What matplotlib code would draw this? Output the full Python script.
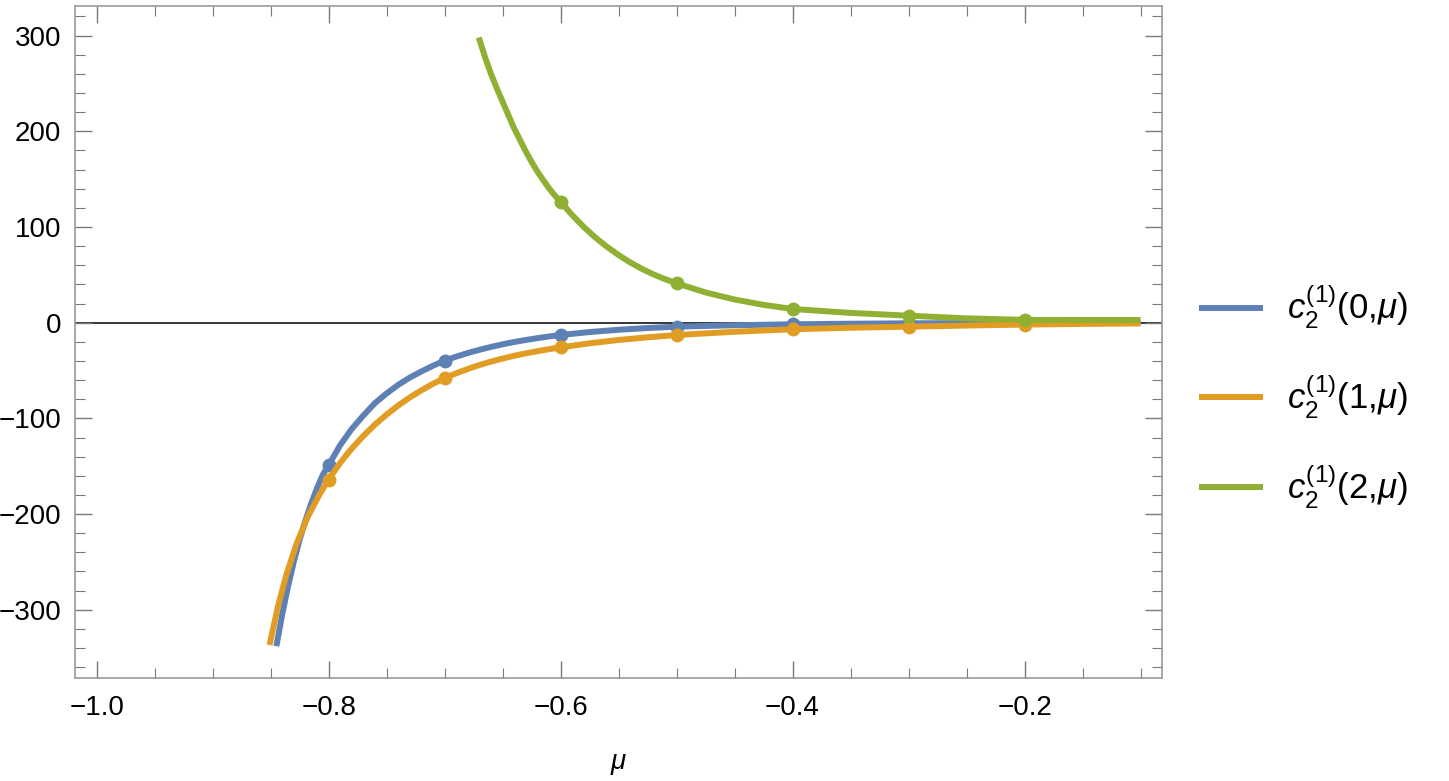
import matplotlib
matplotlib.use("Agg")
import matplotlib.pyplot as plt
from matplotlib.lines import Line2D
from matplotlib.ticker import MultipleLocator

plt.rcParams["font.family"] = ["Liberation Sans", "DejaVu Sans"]
plt.rcParams["mathtext.fontset"] = "custom"
plt.rcParams["mathtext.rm"] = "Liberation Sans"
plt.rcParams["mathtext.it"] = "Liberation Sans:italic"

# curve samples
mu_c0 = [-0.845, -0.840, -0.835, -0.830, -0.825, -0.820, -0.815, -0.810, -0.805,
         -0.800, -0.790, -0.780, -0.770, -0.760, -0.750, -0.740, -0.730, -0.720,
         -0.710, -0.700, -0.690, -0.680, -0.670, -0.660, -0.650, -0.640, -0.630,
         -0.620, -0.610, -0.600, -0.575, -0.550, -0.525, -0.500, -0.450, -0.400,
         -0.350, -0.300, -0.250, -0.200, -0.150, -0.100]
c0 = [-338.0, -305.0, -276.0, -250.0, -227.0, -207.0, -189.0, -173.0, -159.0,
      -149.0, -128.0, -111.0, -97.0, -84.0, -74.0, -65.0, -57.4, -51.0,
      -45.0, -39.7, -35.5, -31.7, -28.4, -25.3, -22.6, -20.2, -18.1,
      -16.2, -14.4, -12.9, -9.8, -7.4, -5.6, -4.2, -2.7, -1.7,
      -1.1, -0.7, -0.45, -0.3, -0.2, -0.1]

mu_c1 = [-0.8509, -0.8437, -0.8365, -0.8279, -0.8178, -0.8078, -0.800, -0.790,
         -0.780, -0.770, -0.760, -0.750, -0.740, -0.730, -0.720, -0.710,
         -0.700, -0.690, -0.680, -0.670, -0.660, -0.650, -0.640, -0.630,
         -0.620, -0.610, -0.600, -0.575, -0.550, -0.525, -0.500, -0.450,
         -0.400, -0.350, -0.300, -0.250, -0.200, -0.150, -0.100]
c1 = [-336.8, -296.7, -264.0, -232.0, -202.5, -179.5, -164.0, -146.5,
      -131.5, -118.3, -106.5, -96.0, -86.6, -78.2, -70.7, -63.9,
      -58.0, -52.9, -48.4, -44.3, -40.7, -37.5, -34.6, -32.1,
      -29.8, -27.7, -25.8, -21.6, -18.1, -15.3, -12.9, -9.5,
      -6.9, -5.3, -4.2, -3.0, -2.0, -1.3, -0.8]

mu_c2 = [-0.6705, -0.665, -0.660, -0.655, -0.650, -0.645, -0.640, -0.635, -0.630,
         -0.625, -0.620, -0.615, -0.610, -0.605, -0.600, -0.590, -0.580, -0.570,
         -0.560, -0.550, -0.540, -0.530, -0.520, -0.510, -0.500, -0.475, -0.450,
         -0.425, -0.400, -0.350, -0.300, -0.250, -0.200, -0.150, -0.100]
c2 = [298.0, 277.0, 260.0, 245.0, 231.0, 217.0, 203.0, 191.0, 179.0,
      168.0, 158.0, 149.0, 140.5, 133.0, 126.4, 112.5, 100.0, 89.0,
      79.3, 70.7, 63.0, 56.3, 50.5, 45.5, 41.2, 31.6, 24.2,
      18.6, 14.3, 10.2, 7.3, 4.5, 2.9, 2.8, 2.8]

# sampled points (dots)
mu_pts = [-0.8, -0.7, -0.6, -0.5, -0.4, -0.3, -0.2]
c0_pts = [-149.0, -39.7, -12.9, -4.2, -1.7, -0.7, -0.3]
c1_pts = [-164.0, -58.0, -25.8, -12.9, -6.9, -4.2, -2.0]
mu_pts2 = [-0.6, -0.5, -0.4, -0.3, -0.2]
c2_pts = [126.4, 41.2, 14.3, 7.3, 2.9]

labels = [r"$c_2^{(1)}$(0,$\mu$)", r"$c_2^{(1)}$(1,$\mu$)", r"$c_2^{(1)}$(2,$\mu$)"]
colors = ["#5E81B5", "#E19C24", "#8FB032"]

fig = plt.figure(figsize=(14.49, 7.81), dpi=100)
ax = fig.add_axes([75 / 1449, 1 - 678 / 781, 1087 / 1449, 672 / 781])

ax.axhline(0, color="black", lw=1.1, zorder=1)

series = [(mu_c0, c0, mu_pts, c0_pts), (mu_c1, c1, mu_pts, c1_pts),
          (mu_c2, c2, mu_pts2, c2_pts)]
for i, (xs, ys, px, py) in enumerate(series):
    ax.plot(xs, ys, color=colors[i], lw=4.3, solid_capstyle="butt",
            solid_joinstyle="round", zorder=2 + i)
    ax.plot(px, py, "o", color=colors[i], ms=10, mec="none", zorder=2 + i)

ax.set_xlim(-1.0186, -0.0815)
ax.set_ylim(-371.3, 330.9)

ax.xaxis.set_major_locator(MultipleLocator(0.2))
ax.xaxis.set_minor_locator(MultipleLocator(0.05))
ax.yaxis.set_major_locator(MultipleLocator(100))
ax.yaxis.set_minor_locator(MultipleLocator(20))
ax.xaxis.set_major_formatter(plt.FuncFormatter(lambda v, p: f"{v:.1f}".replace("-", "\u2212")))
ax.yaxis.set_major_formatter(plt.FuncFormatter(lambda v, p: f"{v:.0f}".replace("-", "\u2212")))

ax.tick_params(which="both", direction="in", top=True, right=True,
               color="#7a7a7a", labelsize=20, pad=10)
ax.tick_params(which="major", length=12, width=1.0)
ax.tick_params(which="minor", length=7, width=0.8)
ax.tick_params(axis="x", pad=12)
for s in ax.spines.values():
    s.set_color("#999999")
    s.set_linewidth(1.2)

ax.set_xlabel(r"$\mu$", fontsize=20, labelpad=22)

handles = [Line2D([], [], color=c, lw=4.3, solid_capstyle="butt") for c in colors]
fig.legend(handles, labels, loc="center left", bbox_to_anchor=(1199 / 1449, 1 - 397 / 781),
           frameon=False, fontsize=25, handlelength=1.84, handletextpad=0.69,
           labelspacing=1.2, borderpad=0, borderaxespad=0)

fig.savefig("out.png", dpi=100)
